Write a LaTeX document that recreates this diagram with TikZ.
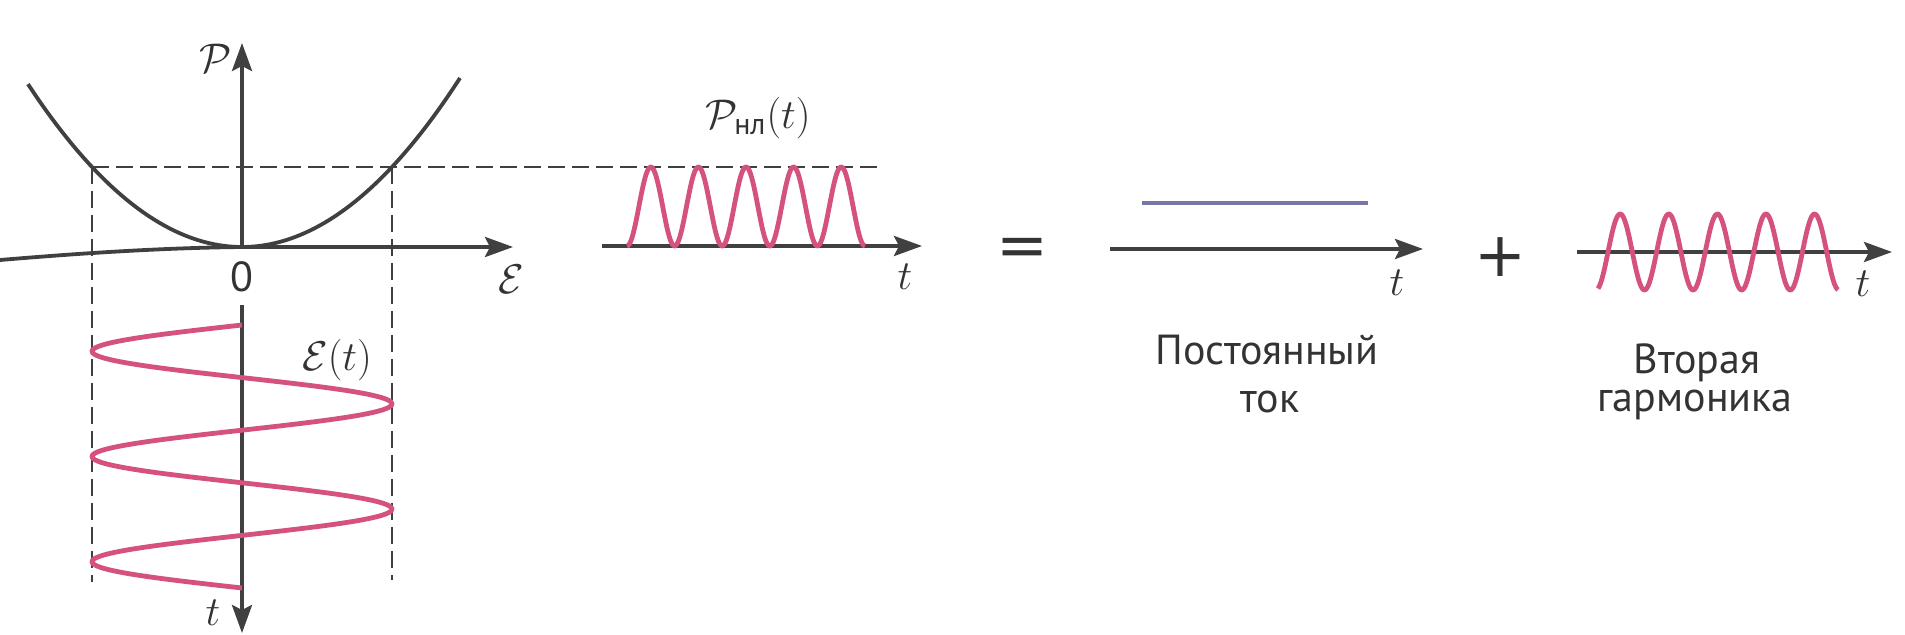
\documentclass[tikz,border=0pt]{standalone}
\usepackage{amsmath}
\usepackage{fontspec}
\setmainfont{PT Sans}
\newfontfamily\signfont{DejaVu Sans}
\usetikzlibrary{arrows.meta}
\definecolor{axisgray}{HTML}{404040}
\definecolor{textgray}{HTML}{333333}
\definecolor{wavepink}{HTML}{D6527E}
\definecolor{dcblue}{HTML}{7878A8}
\tikzset{
  axis/.style={draw=axisgray, line width=1.9pt, -{Stealth[length=14pt,width=10pt,inset=2.5pt]}},
  plainline/.style={draw=axisgray, line width=1.9pt},
  guide/.style={draw=axisgray, line width=1.3pt, dash pattern=on 8.5pt off 3.5pt},
  wave/.style={draw=wavepink, line width=2.4pt, line join=round},
  lbl/.style={inner sep=0pt, text=textgray, font=\fontsize{22}{26}\selectfont},
  txt/.style={inner sep=0pt, font=\fontsize{21}{25}\selectfont, text=textgray},
  bigsign/.style={inner sep=0pt, font=\signfont\fontsize{31}{33}\selectfont, text=textgray}
}
\begin{document}
\begin{tikzpicture}[x=0.5pt, y=-0.5pt]
\useasboundingbox (0,0) rectangle (1905,635);
\fill[white] (0,0) rectangle (1905,635);

% ---------- left: characteristic P(E) ----------
\coordinate (O) at (242,247);
\coordinate (Ptop) at (242,43);
\coordinate (Eleft) at (0,260);
\coordinate (Eend) at (513,247);
\coordinate (Ttop) at (242,305);
\coordinate (Tend) at (242,633);

% guides
\coordinate (gl) at (92,167);
\coordinate (gr) at (392,167);
\coordinate (gend) at (877,167);
\coordinate (glb) at (92,582);
\coordinate (grb) at (392,580);
\draw[guide] (gl) -- (gend);
\draw[guide] (gl) -- (glb);
\draw[guide] (gr) -- (grb);

% axes
\draw[plainline] (Eleft) .. controls (60,255) and (150,248) .. (O);
\draw[axis] (O) -- (Eend);
\draw[axis] (O) -- (Ptop);
\draw[axis] (Ttop) -- (Tend);

% parabola
\draw[plainline] plot[domain=-214:218, samples=80, smooth] ({242+\x},{247-(0.05963*\x)*(0.05963*\x)});

% E(t) sinusoid (vertical)
\draw[wave] plot[domain=325:588, samples=200, smooth] ({242-150*sin(3.4221*(\x-325))},{\x});

\node[lbl] (Plab) at (216,58) {$\mathcal{P}$};
\node[txt] (zero) at (242,277) {0};
\node[lbl] (Elab) at (511,279) {$\mathcal{E}$};
\node[lbl] (tlab1) at (213,613) {$t$};
\node[lbl] (Etlab) at (337,360) {$\mathcal{E}(t)$};

% ---------- P_nl(t) ----------
\coordinate (a2s) at (602,246);
\coordinate (a2e) at (922,246);
\draw[axis] (a2s) -- (a2e);
\draw[wave] plot[domain=627:865, samples=240] ({\x},{246-79*sin(3.7815*(\x-627))*sin(3.7815*(\x-627))});
\node[lbl] (Pnl) at (758,118) {$\mathcal{P}_{\text{\fontsize{15}{17}\selectfont нл}}(t)$};
\node[lbl] (tlab2) at (905,277) {$t$};

% ---------- = DC ----------
\node[bigsign] (eq) at (1022,252) {=};
\coordinate (a3s) at (1110,249);
\coordinate (a3e) at (1423,249);
\draw[axis] (a3s) -- (a3e);
\coordinate (dcs) at (1142,203);
\coordinate (dce) at (1368,203);
\draw[draw=dcblue, line width=2.2pt] (dcs) -- (dce);
\node[lbl] (tlab3) at (1397,283) {$t$};
\node[txt] (dc1) at (1267,350) {Постоянный};
\node[txt] (dc2) at (1270,402) {ток};

% ---------- + second harmonic ----------
\node[bigsign] (plus) at (1500,257) {+};
\coordinate (a4s) at (1577,252);
\coordinate (a4e) at (1892,252);
\draw[axis] (a4s) -- (a4e);
\draw[wave] plot[domain=1598:1838, samples=240, smooth] ({\x},{252-38*sin(7.4074*(\x-1608))});
\node[lbl] (tlab4) at (1863,284) {$t$};
\node[txt] (h1) at (1697,363) {Вторая};
\node[txt] (h2) at (1695,405) {гармоника};
\end{tikzpicture}
\end{document}
